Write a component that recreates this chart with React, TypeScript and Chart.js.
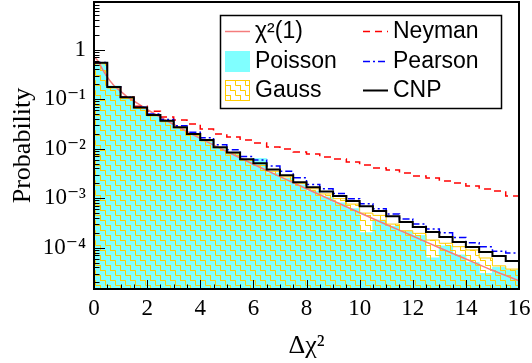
import React, { useEffect, useRef } from "react";
import { Chart, registerables } from "chart.js";

Chart.register(...registerables);

// ---- data ----
const binLow = [0, 0.5, 1, 1.5, 2, 2.5, 3, 3.5, 4, 4.5, 5, 5.5, 6, 6.5, 7, 7.5, 8, 8.5, 9, 9.5, 10, 10.5, 11, 11.5, 12, 12.5, 13, 13.5, 14, 14.5, 15, 15.5];
const xMax = 16;

const poisson = [0.53, 0.184, 0.105, 0.066, 0.046, 0.0352, 0.0258, 0.0188, 0.014, 0.0101, 0.0077, 0.0057, 0.0063, 0.0032, 0.0025, 0.00185, 0.00138, 0.00105, 0.0008, 0.00061, 0.0002, 0.00036, 0.00027, 0.00021, 0.000175, 0.000062, 0.000108, 0.000071, 0.00005, 0.00003, 0.00004, 0.000035];
const gauss = [0.52, 0.168, 0.103, 0.065, 0.046, 0.035, 0.0262, 0.0192, 0.0143, 0.0104, 0.0079, 0.0059, 0.0046, 0.0035, 0.0027, 0.002, 0.00155, 0.00122, 0.00098, 0.00076, 0.0005, 0.00045, 0.0003, 0.00022, 0.000195, 0.000143, 0.000123, 0.000105, 0.00009, 0.000062, 0.000043, 0.000037];
const neyman = [0.539, 0.1765, 0.1109, 0.072, 0.057, 0.0437, 0.038, 0.0316, 0.025, 0.0198, 0.01725, 0.015, 0.01304, 0.01083, 0.00987, 0.00858, 0.00782, 0.0068, 0.0062, 0.00539, 0.00469, 0.00408, 0.00372, 0.00323, 0.00281, 0.00256, 0.00223, 0.00203, 0.00177, 0.00154, 0.0014, 0.00111];
const pearson = [0.55, 0.178, 0.11, 0.069, 0.05, 0.039, 0.0292, 0.0216, 0.0166, 0.012, 0.0095, 0.007, 0.0059, 0.0045, 0.0035, 0.0026, 0.0019, 0.00156, 0.00124, 0.00098, 0.00077, 0.00061, 0.00048, 0.00038, 0.0003, 0.00024, 0.0002, 0.00016, 0.000126, 0.000105, 0.000085, 0.000078];
const cnp = [0.547, 0.176, 0.109, 0.068, 0.048, 0.0368, 0.0271, 0.0198, 0.015, 0.0107, 0.0084, 0.0061, 0.0051, 0.0038, 0.0029, 0.0021, 0.00166, 0.00136, 0.00111, 0.00088, 0.00069, 0.00055, 0.00043, 0.00033, 0.000262, 0.000208, 0.000165, 0.000131, 0.000104, 0.000082, 0.000068, 0.000054];

const chi2X = [0.05, 0.16, 0.32, 0.5, 0.75, 1, 1.25, 1.5, 2, 2.5, 3, 4, 5, 6, 7, 8, 9, 10, 11, 12, 13, 14, 15, 16];
const chi2Y = [0.68, 0.58, 0.4, 0.28, 0.19, 0.145, 0.112, 0.092, 0.062, 0.0434, 0.0308, 0.0162, 0.0088, 0.00486, 0.00273, 0.00155, 0.000887, 0.00051, 0.000295, 0.000172, 0.0001, 0.000059, 0.000035, 0.0000215];

const xTickValues = [0, 2, 4, 6, 8, 10, 12, 14, 16];
const yTickValues = [1e-4, 1e-3, 1e-2, 1e-1, 1];
const yTickLabels = ["10⁻⁴", "10⁻³", "10⁻²", "10⁻¹", "1"];
const yMin = 1.466e-5;
const yMax = 9.2;

const legendColumns = [
  ["χ²(1)", "Poisson", "Gauss"],
  ["Neyman", "Pearson", "CNP"],
];

const SERIF = "'Liberation Serif', 'DejaVu Serif', 'Times New Roman', serif";
const SANS = "'Liberation Sans', Arial, Helvetica, sans-serif";

function histPoints(vals: number[]) {
  const pts = binLow.map((x, i) => ({ x, y: vals[i] }));
  pts.push({ x: xMax, y: vals[vals.length - 1] });
  return pts;
}

function makeHatch(color: string) {
  const c = document.createElement("canvas");
  c.width = 10;
  c.height = 10;
  const g = c.getContext("2d")!;
  g.strokeStyle = color;
  g.lineWidth = 1;
  g.lineCap = "square";
  g.beginPath();
  g.moveTo(0, 0.5);
  g.lineTo(5.5, 0.5);
  g.lineTo(5.5, 5.5);
  g.lineTo(10, 5.5);
  g.moveTo(0.5, 5.5);
  g.lineTo(0.5, 10);
  g.stroke();
  return g.createPattern(c, "repeat");
}

const frameTicksPlugin = {
  id: "frameTicks",
  afterDatasetsDraw(chart: any) {
    const { ctx, chartArea: a, scales } = chart;
    const xs = scales.x;
    const ys = scales.y;
    ctx.save();
    ctx.strokeStyle = "#000";
    ctx.lineWidth = 1;
    ctx.beginPath();
    for (let v = 0; v <= xMax + 1e-9; v += 0.5) {
      const px = Math.round(xs.getPixelForValue(v)) + 0.5;
      const major = Math.abs(v / 2 - Math.round(v / 2)) < 1e-9;
      const len = major ? 9 : 4.5;
      ctx.moveTo(px, a.bottom);
      ctx.lineTo(px, a.bottom - len);
    }
    for (let k = -6; k <= 1; k++) {
      for (let m = 1; m <= 9; m++) {
        const v = m * Math.pow(10, k);
        if (v < yMin || v > yMax) continue;
        const py = Math.round(ys.getPixelForValue(v)) + 0.5;
        const len = m === 1 ? 11 : 5.5;
        ctx.moveTo(a.left, py);
        ctx.lineTo(a.left + len, py);
      }
    }
    ctx.stroke();
    ctx.lineWidth = 2;
    ctx.strokeRect(a.left, a.top, a.right - a.left, a.bottom - a.top);
    ctx.restore();
  },
};

const legendPlugin = {
  id: "rootLegend",
  afterDraw(chart: any) {
    const ctx = chart.ctx;
    const bx = 220.5, by = 15.5, bw = 281, bh = 93;
    ctx.save();
    ctx.fillStyle = "#fff";
    ctx.fillRect(bx, by, bw, bh);
    ctx.lineWidth = 1.5;
    ctx.strokeStyle = "#000";
    ctx.strokeRect(bx, by, bw, bh);
    const rowY = [31.5, 61.5, 90.5];
    const colX = [225, 363];
    ctx.font = `23px ${SANS}`;
    ctx.textBaseline = "middle";
    ctx.textAlign = "left";
    legendColumns.forEach((col, ci) =>
      col.forEach((label, ri) => {
        const ds = chart.data.datasets.find((d: any) => d.label === label);
        if (!ds) return;
        const x0 = colX[ci];
        const y = rowY[ri];
        if (ds.fill) {
          ctx.fillStyle = ds.backgroundColor;
          ctx.fillRect(x0, y - 10.5, 25, 21);
          ctx.lineWidth = 1;
          ctx.strokeStyle = ds.borderColor;
          ctx.strokeRect(x0 + 0.5, y - 10, 24, 20);
        } else {
          ctx.setLineDash(ds.borderDash || []);
          ctx.strokeStyle = ds.borderColor;
          ctx.lineWidth = ds.borderWidth;
          ctx.beginPath();
          ctx.moveTo(x0, y);
          ctx.lineTo(x0 + 25, y);
          ctx.stroke();
          ctx.setLineDash([]);
        }
        ctx.fillStyle = "#000";
        ctx.fillText(label, x0 + 30, y);
      })
    );
    ctx.restore();
  },
};

export default function App() {
  const ref = useRef<HTMLCanvasElement | null>(null);

  useEffect(() => {
    if (!ref.current) return;
    const hatch = makeHatch("#ffcc00");
    const chart = new Chart(ref.current, {
      type: "line",
      data: {
        datasets: [
          {
            label: "CNP",
            data: histPoints(cnp),
            stepped: "before",
            borderColor: "#000000",
            borderWidth: 2,
            pointRadius: 0,
            fill: false,
            order: 1,
          },
          {
            label: "Pearson",
            data: histPoints(pearson),
            stepped: "before",
            borderColor: "#0000ff",
            borderWidth: 1.5,
            borderDash: [7, 3, 2, 3],
            pointRadius: 0,
            fill: false,
            order: 2,
          },
          {
            label: "Neyman",
            data: histPoints(neyman),
            stepped: "before",
            borderColor: "#ff0000",
            borderWidth: 1.5,
            borderDash: [7, 5],
            pointRadius: 0,
            fill: false,
            order: 3,
          },
          {
            label: "χ²(1)",
            data: chi2X.map((x, i) => ({ x, y: chi2Y[i] })),
            borderColor: "#f47c7c",
            borderWidth: 1.5,
            pointRadius: 0,
            cubicInterpolationMode: "monotone",
            fill: false,
            order: 4,
          },
          {
            label: "Gauss",
            data: histPoints(gauss),
            stepped: "before",
            borderColor: "#ffcc00",
            borderWidth: 1,
            backgroundColor: hatch as any,
            pointRadius: 0,
            fill: "start",
            order: 5,
          },
          {
            label: "Poisson",
            data: histPoints(poisson),
            stepped: "before",
            borderColor: "#80ffff",
            borderWidth: 1,
            backgroundColor: "#80ffff",
            pointRadius: 0,
            fill: "start",
            order: 6,
          },
        ],
      },
      options: {
        animation: false,
        responsive: false,
        layout: { padding: { left: 0, right: 13, top: 2, bottom: 0 } },
        plugins: {
          legend: { display: false },
          tooltip: { enabled: false },
        },
        scales: {
          x: {
            type: "linear",
            min: 0,
            max: xMax,
            grid: { display: false, drawTicks: false },
            border: { display: false },
            afterBuildTicks: (scale: any) => {
              scale.ticks = xTickValues.map((v) => ({ value: v }));
            },
            afterFit: (scale: any) => {
              scale.height = 74;
              scale.paddingLeft = 0;
              scale.paddingRight = 0;
            },
            ticks: {
              autoSkip: false,
              maxRotation: 0,
              padding: 6,
              color: "#000",
              font: { family: SERIF, size: 23 },
              callback: (v: any) => String(v),
            },
            title: {
              display: true,
              text: "Δχ²",
              color: "#000",
              font: { family: SERIF, size: 26 },
              padding: { top: 0, bottom: 1 },
            },
          },
          y: {
            type: "logarithmic",
            min: yMin,
            max: yMax,
            grid: { display: false, drawTicks: false },
            border: { display: false },
            afterBuildTicks: (scale: any) => {
              scale.ticks = yTickValues.map((v) => ({ value: v }));
            },
            afterFit: (scale: any) => {
              scale.width = 94;
              scale.paddingTop = 0;
              scale.paddingBottom = 0;
            },
            ticks: {
              autoSkip: false,
              padding: 8,
              color: "#000",
              font: { family: SERIF, size: 23 },
              callback: (v: any) => {
                const i = yTickValues.findIndex(
                  (t) => Math.abs(Math.log10(t) - Math.log10(Number(v))) < 1e-6
                );
                return i >= 0 ? yTickLabels[i] : "";
              },
            },
            title: {
              display: true,
              text: "Probability",
              color: "#000",
              font: { family: SERIF, size: 26 },
              padding: { top: 8, bottom: 0 },
            },
          },
        },
      },
      plugins: [frameTicksPlugin, legendPlugin],
    });
    return () => chart.destroy();
  }, []);

  return (
    <div style={{ position: "fixed", left: 0, top: 0, width: 532, height: 363, background: "#fff" }}>
      <canvas ref={ref} width={532} height={363} style={{ display: "block" }} />
    </div>
  );
}
